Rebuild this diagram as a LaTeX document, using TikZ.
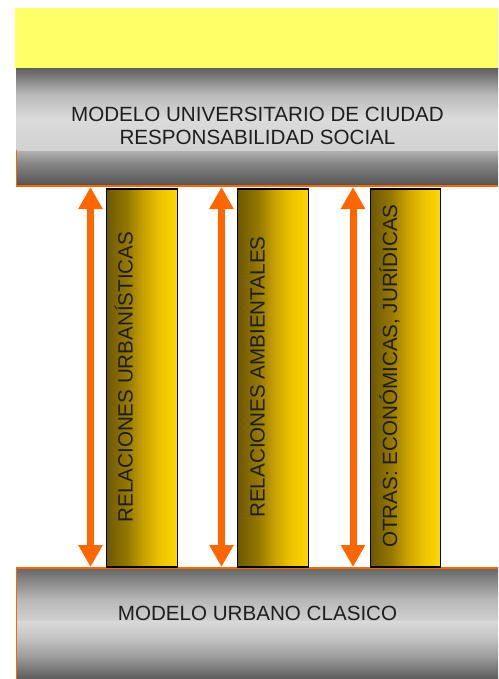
\documentclass[tikz,border=0pt]{standalone}
\usepackage{fontspec}
\setmainfont{Liberation Sans}
\usetikzlibrary{arrows.meta,calc}
\definecolor{bandyellow}{RGB}{255,255,102}
\definecolor{orangeln}{RGB}{255,102,0}
\definecolor{gA}{RGB}{110,88,0}
\definecolor{gB}{RGB}{150,120,0}
\definecolor{gC}{RGB}{196,158,0}
\definecolor{gD}{RGB}{236,194,0}
\definecolor{gE}{RGB}{255,216,0}
\definecolor{txt}{RGB}{30,30,30}
\pgfdeclareverticalshading{topupper}{100bp}{%
  color(0bp)=(black!18); color(25bp)=(black!18);
  color(45bp)=(black!14); color(60bp)=(black!28);
  color(75bp)=(black!62); color(100bp)=(black!62)}
\pgfdeclareverticalshading{toplower}{100bp}{%
  color(0bp)=(black!68); color(25bp)=(black!68);
  color(60bp)=(black!46); color(75bp)=(black!32); color(100bp)=(black!32)}
\pgfdeclareverticalshading{botupper}{100bp}{%
  color(0bp)=(black!18); color(25bp)=(black!18);
  color(45bp)=(black!28); color(75bp)=(black!60); color(100bp)=(black!60)}
\pgfdeclareverticalshading{botlower}{100bp}{%
  color(0bp)=(black!64); color(25bp)=(black!64);
  color(45bp)=(black!38); color(62bp)=(black!22);
  color(75bp)=(black!15); color(100bp)=(black!15)}
\pgfdeclarehorizontalshading{goldshade}{100bp}{%
  color(0bp)=(gA); color(25bp)=(gA); color(40bp)=(gB);
  color(50bp)=(gC); color(62bp)=(gD); color(75bp)=(gE); color(100bp)=(gE)}
\tikzset{
  bandtext/.style={font=\fontsize{20.6}{23}\selectfont, text=txt, inner sep=0pt, align=center},
  coltext/.style={font=\fontsize{20.6}{23}\selectfont, text=txt, inner sep=0pt, rotate=90, anchor=base},
  pillar/.style={draw=black, line width=1.6pt, shade, shading=goldshade,
    minimum width=71pt, minimum height=378pt, inner sep=0pt, anchor=north west},
  darr/.style={draw=orangeln, line width=7pt,
    {Triangle[width=23pt,length=22pt]}-{Triangle[width=23pt,length=22pt]}},
}
\begin{document}
\begin{tikzpicture}[x=1pt,y=-1pt]
\useasboundingbox (0,0) rectangle (498,679);
\fill[white] (0,0) rectangle (498,679);
% yellow band
\fill[bandyellow] (15,8) rectangle (498,69);
% top gray band
\shade[shading=topupper] (16,69) rectangle (498,152);
\shade[shading=toplower] (16,152) rectangle (498,186);
\draw[orangeln, line width=1.5pt] (16.5,150) -- (16.5,186) -- (498,186);
\node[bandtext] (topmodel) at (257.5,126) {MODELO UNIVERSITARIO DE CIUDAD\\RESPONSABILIDAD SOCIAL};
% bottom gray band
\shade[shading=botupper] (16,568) rectangle (498,621);
\shade[shading=botlower] (16,621) rectangle (498,679);
\draw[orangeln, line width=1.5pt] (16.5,679) -- (16.5,568) -- (498,568);
\node[bandtext] (botmodel) at (257.5,613.5) {MODELO URBANO CLASICO};
% anchors for arrows
\coordinate (t1) at (90.5,187);  \coordinate (b1) at (90.5,567);
\coordinate (t2) at (221.5,187); \coordinate (b2) at (221.5,567);
\coordinate (t3) at (353,187);   \coordinate (b3) at (353,567);
% pillars
\node[pillar] (p1) at (105.5,188) {};
\node[pillar] (p2) at (236.5,188) {};
\node[pillar, minimum width=70pt] (p3) at (369.5,188) {};
\node[coltext] (l1) at (132.5,377) {RELACIONES URBANÍSTICAS};
\node[coltext] (l2) at (264.5,377) {RELACIONES AMBIENTALES};
\node[coltext] (l3) at (397,376) {OTRAS: ECONÓMICAS, JURÍDICAS};
% arrows
\draw[darr] (t1) -- (b1);
\draw[darr] (t2) -- (b2);
\draw[darr] (t3) -- (b3);
\end{tikzpicture}
\end{document}
